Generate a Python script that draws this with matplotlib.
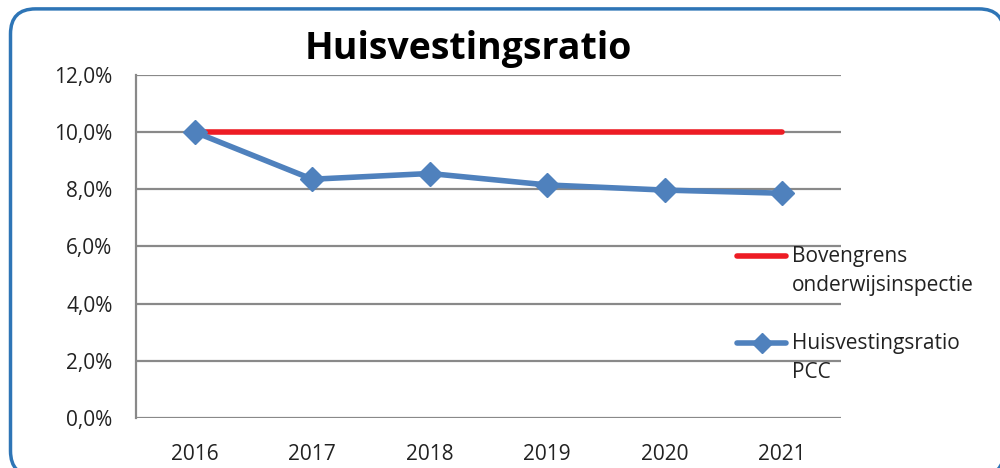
import matplotlib.pyplot as plt
from matplotlib.patches import FancyBboxPatch
from matplotlib.lines import Line2D
from matplotlib.ticker import FuncFormatter

# data
jaren = ["2016", "2017", "2018", "2019", "2020", "2021"]
bovengrens = [10.0, 10.0, 10.0, 10.0, 10.0, 10.0]
ratio_pcc = [10.0, 8.35, 8.55, 8.15, 7.97, 7.86]
labels = ["Bovengrens\nonderwijsinspectie", "Huisvestingsratio\nPCC"]

plt.rcParams['font.family'] = ['Open Sans', 'DejaVu Sans']

fig = plt.figure(figsize=(10, 4.68), dpi=100)

# rounded blue frame (runs slightly off the right and bottom edge)
frame = FancyBboxPatch((0.0105, -0.017), 0.9935, 0.998, boxstyle="round,pad=0,rounding_size=0.025",
                       transform=fig.transFigure, facecolor='white', edgecolor='#2E75B6',
                       linewidth=2.5, mutation_aspect=1000 / 468, zorder=-5)
fig.patches.append(frame)

ax = fig.add_axes([0.136, 0.107, 0.705, 0.733])
ax.set_facecolor('none')

x = range(len(jaren))
ax.plot(x, bovengrens, color='#ED1C24', linewidth=4, solid_capstyle='round', zorder=3)
ax.plot(x, ratio_pcc, color='#4F81BD', linewidth=4, marker='D', markersize=12,
        solid_capstyle='round', zorder=4)

ax.set_xlim(-0.5, len(jaren) - 0.5)
ax.set_ylim(0, 12)
ax.set_yticks([0, 2, 4, 6, 8, 10, 12])
ax.yaxis.set_major_formatter(FuncFormatter(lambda v, p: f"{v:.1f}%".replace('.', ',')))
ax.set_xticks(list(x))
ax.set_xticklabels(jaren)
ax.tick_params(axis='both', length=0, labelsize=15, colors='#222222')
ax.tick_params(axis='y', pad=17)
ax.tick_params(axis='x', pad=19)

ax.grid(axis='y', color='#898989', linewidth=1.6)
ax.set_axisbelow(True)
for side in ['top', 'right', 'bottom']:
    ax.spines[side].set_visible(False)
ax.spines['left'].set_color('#898989')
ax.spines['left'].set_linewidth(1.6)

fig.text(0.468, 0.895, "Huisvestingsratio", ha='center', va='center',
         fontsize=27, fontweight='bold', color='black')

# legend (handles next to first line of label)
def fy(py):
    return 1 - py / 468

fig.lines.append(Line2D([0.737, 0.786], [fy(256), fy(256)], transform=fig.transFigure,
                        color='#ED1C24', linewidth=4, solid_capstyle='round'))
fig.lines.append(Line2D([0.737, 0.786], [fy(343), fy(343)], transform=fig.transFigure,
                        color='#4F81BD', linewidth=4, solid_capstyle='round'))
fig.lines.append(Line2D([0.7615], [fy(343)], transform=fig.transFigure,
                        color='#4F81BD', marker='D', markersize=10, linestyle='none'))
for lab, py in zip(labels, [256, 343]):
    fig.text(0.792, fy(py - 10), lab, ha='left', va='top',
             fontsize=15, color='#222222', linespacing=1.5)

fig.savefig("out.png", dpi=100)
